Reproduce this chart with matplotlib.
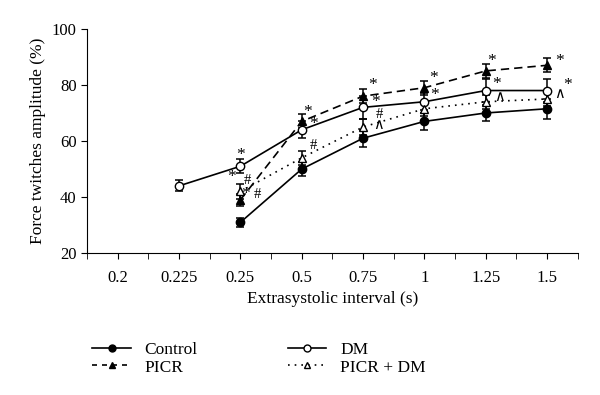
import numpy as np
import matplotlib
matplotlib.use("Agg")
import matplotlib.pyplot as plt
from matplotlib.lines import Line2D

plt.rcParams['font.family'] = ['Liberation Serif', 'DejaVu Serif']

# categorical x axis
intervalos = ["0.2", "0.225", "0.25", "0.5", "0.75", "1", "1.25", "1.5"]

# series (index into intervalos, value, error)
control_x = [2, 3, 4, 5, 6, 7]
control_y = [31, 50, 61, 67, 70, 71.5]
control_e = [1.5, 2.5, 3, 3, 3, 3.5]

dm_x = [1, 2, 3, 4, 5, 6, 7]
dm_y = [44, 51, 64, 72, 74, 78, 78]
dm_e = [2, 2.5, 3, 4, 3, 4, 4]

picr_x = [2, 3, 4, 5, 6, 7]
picr_y = [39, 67, 76, 79, 85, 87]
picr_e = [2, 2.5, 2.5, 2.5, 2.5, 2.5]

picrdm_x = [2, 3, 4, 5, 6, 7]
picrdm_y = [42, 54, 65, 71.5, 74, 75]
picrdm_e = [2.5, 2.5, 3, 2.5, 2.5, 2.5]

# significance marks: (x, y, text)
marcas = [
    (2.0, 55, "*"), (1.86, 47, "*"), (2.12, 46, "#"), (2.09, 41, "*"), (2.28, 41, "#"),
    (3.1, 70.5, "*"), (3.2, 66, "*"), (3.19, 58.5, "#"),
    (4.15, 80, "*"), (4.2, 74, "*"), (4.26, 69.5, "#"), (4.25, 65.5, "∧"),
    (5.15, 82.5, "*"), (5.16, 76.5, "*"),
    (6.1, 88.5, "*"), (6.17, 80.5, "*"), (6.22, 75.5, "∧"),
    (7.2, 88.5, "*"), (7.2, 76.5, "∧"), (7.33, 80, "*"),
]

fig = plt.figure(figsize=(6, 3.95), dpi=100)
ax = fig.add_axes([0.145, 0.359, 0.818, 0.568])

kw = dict(color='black', lw=1.2, ms=6, capsize=3, elinewidth=1.1, capthick=1.1)
ax.errorbar(control_x, control_y, yerr=control_e, fmt='-o', mfc='black', **kw)
ax.errorbar(picr_x, picr_y, yerr=picr_e, fmt='^', ls=(0, (5, 3)), mfc='black', **kw)
ax.errorbar(dm_x, dm_y, yerr=dm_e, fmt='-o', mfc='white', **kw)
ax.errorbar(picrdm_x, picrdm_y, yerr=picrdm_e, fmt='^', ls=(0, (1, 3)), mfc='white', **kw)

for x, y, t in marcas:
    fs = 12.5 if t == "*" else 10.5
    ax.text(x, y, t, fontsize=fs, ha='center', va='center')

ax.set_xlim(-0.5, 7.5)
ax.set_ylim(20, 100)
ax.set_xticks(range(len(intervalos)))
ax.set_xticklabels(intervalos)
ax.set_xticks(np.arange(-0.5, 7.6, 1.0), minor=True)
ax.tick_params(which='both', direction='out', length=4, labelsize=12)
ax.tick_params(axis='x', which='major', pad=8)
ax.set_yticks([20, 40, 60, 80, 100])
for s in ['top', 'right']:
    ax.spines[s].set_visible(False)
ax.set_xlabel("Extrasystolic interval (s)", fontsize=12.5)
ax.set_ylabel("Force twitches amplitude (%)", fontsize=12.5)

handles = [
    Line2D([], [], color='black', lw=1.2, marker='o', ms=5, mfc='black', label='Control'),
    Line2D([], [], color='black', lw=1.2, ls=(0, (3, 3)), marker='^', ms=5, mfc='black', label='PICR'),
    Line2D([], [], color='black', lw=1.2, marker='o', ms=5, mfc='white', label='DM'),
    Line2D([], [], color='black', lw=1.2, ls=(0, (1, 3)), marker='^', ms=5, mfc='white', label='PICR + DM'),
]
fig.legend(handles=handles, ncol=2, loc='upper left',
           bbox_to_anchor=(0.128, 0.175), frameon=False, fontsize=12.5,
           handlelength=2.2, columnspacing=5.2, labelspacing=0.1)

fig.savefig("out.png", dpi=100)
